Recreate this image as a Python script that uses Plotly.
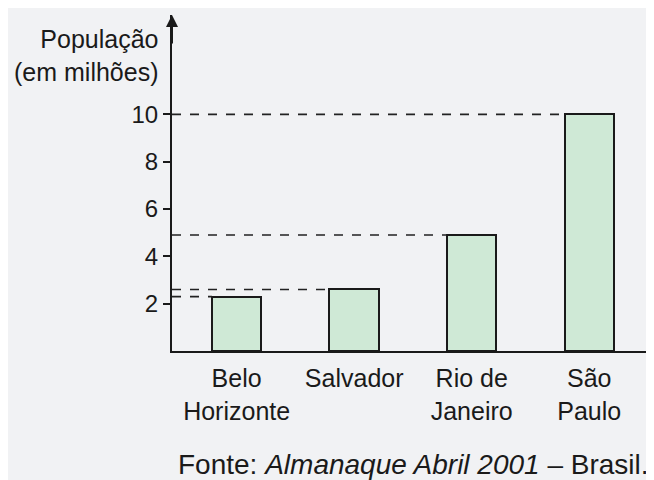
import plotly.graph_objects as go

categories = ["Belo<br>Horizonte", "Salvador", "Rio de<br>Janeiro", "São<br>Paulo"]
populacao = [2.3, 2.6, 4.9, 10.0]
tick_vals = [2, 4, 6, 8, 10]
tick_text = ["2", "4", "6", "8", "10"]

xpos = list(range(len(categories)))
bar_w = 0.42
x_min = -0.55

fig = go.Figure()
fig.add_trace(go.Bar(
    x=xpos, y=populacao, width=bar_w,
    marker=dict(color="#cfe9d6", line=dict(color="#1a1a1a", width=2)),
    hoverinfo="skip",
))

for xi, v in zip(xpos, populacao):
    fig.add_shape(type="line", xref="x", yref="y",
                  x0=x_min, x1=xi - bar_w / 2, y0=v, y1=v,
                  line=dict(color="#222", width=1.6, dash="dash"))

font = "Liberation Sans, Arial, sans-serif"
fig.update_layout(
    width=646, height=472,
    margin=dict(l=164, r=6, t=7, b=129),
    paper_bgcolor="#f1f2f4", plot_bgcolor="#f1f2f4",
    showlegend=False,
    font=dict(family=font, size=24, color="#1a1a1a"),
    bargap=0,
    xaxis=dict(range=[x_min, 3.5], tickvals=xpos, ticktext=categories,
               showgrid=False, zeroline=False, showline=True,
               linecolor="#1a1a1a", linewidth=2, ticks="",
               ticklabelstandoff=4,
               tickfont=dict(size=25)),
    yaxis=dict(range=[0, 14.2], tickvals=tick_vals, ticktext=tick_text,
               showgrid=False, zeroline=False, showline=True,
               linecolor="#1a1a1a", linewidth=2, ticks="outside",
               ticklen=7, tickwidth=1.5, tickcolor="#1a1a1a",
               tickfont=dict(size=24)),
)

fig.add_annotation(xref="paper", yref="paper", x=0, y=1.0, ax=0, ay=30,
                   text="", showarrow=True, arrowhead=2, arrowsize=1.2,
                   arrowwidth=2, arrowcolor="#1a1a1a")
fig.add_annotation(xref="paper", yref="paper", x=-0.025, y=0.975,
                   xanchor="right", yanchor="top", align="right",
                   text="População<br>(em milhões)", showarrow=False,
                   font=dict(size=25))
fig.add_annotation(xref="paper", yref="paper", x=1.006, y=-0.339,
                   xanchor="right", yanchor="middle",
                   text="Fonte: <i>Almanaque Abril 2001</i> – Brasil.",
                   showarrow=False, font=dict(size=28))

fig.write_html("out.html")
